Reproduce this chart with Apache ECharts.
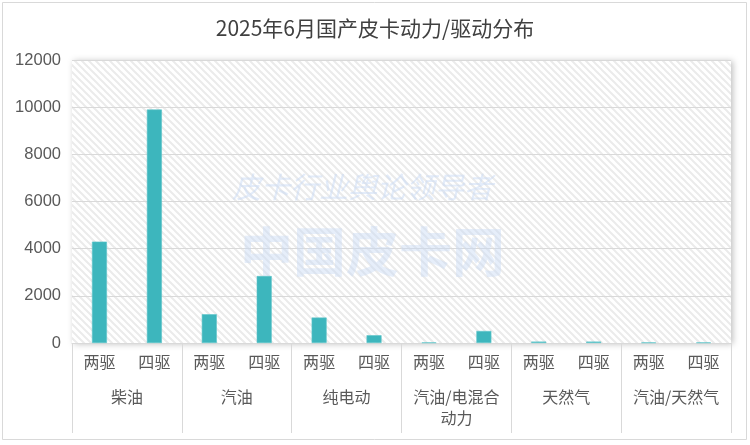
<!DOCTYPE html>
<html><head><meta charset="utf-8">
<script src="https://cdn.jsdelivr.net/npm/echarts@6/dist/echarts.min.js"></script>
<style>html,body{margin:0;padding:0;background:#fff}#c{width:750px;height:445px}</style>
</head><body><div id="c"></div>
<script>
const title = '2025年6月国产皮卡动力/驱动分布';
const drives = ['两驱','四驱','两驱','四驱','两驱','四驱','两驱','四驱','两驱','四驱','两驱','四驱'];
const groups = ['柴油','汽油','纯电动','汽油/电混合\n动力','天然气','汽油/天然气'];
const values = [4300, 9900, 1220, 2840, 1080, 330, 25, 510, 60, 60, 25, 25];
const yTicks = {min: 0, max: 12000, interval: 2000};

const FONT = '"Liberation Sans","Noto Sans CJK SC",sans-serif';
const CJK = '"Noto Sans CJK SC","Liberation Sans",sans-serif';

// hatch pattern
const tile = document.createElement('canvas');
tile.width = 7; tile.height = 7;
const tc = tile.getContext('2d');
tc.fillStyle = '#ffffff'; tc.fillRect(0,0,7,7);
tc.strokeStyle = '#ebebeb'; tc.lineWidth = 2;
tc.beginPath();
tc.moveTo(-1,-1); tc.lineTo(8,8);
tc.moveTo(-8,-1); tc.lineTo(1,8);
tc.moveTo(6,-1); tc.lineTo(15,8);
tc.stroke();

const chart = echarts.init(document.getElementById('c'), null, {renderer:'canvas'});
chart.setOption({
  backgroundColor: '#fff',
  animation: false,
  title: {text: title, left: 'center', top: 13,
    textStyle: {fontFamily: CJK, fontSize: 21, fontWeight: 'normal', color: '#404040'}},
  grid: {left: 72, right: 19, top: 60, bottom: 102, show: true,
    backgroundColor: {image: tile, repeat: 'repeat'}, borderWidth: 0,
    shadowBlur: 6, shadowColor: 'rgba(0,0,0,0.25)', shadowOffsetX: 2, shadowOffsetY: 1},
  graphic: [
    {type: 'rect', z: 0, shape: {x: 2.5, y: 2.5, width: 744, height: 437},
     style: {fill: 'none', stroke: '#d9d9d9', lineWidth: 1}, silent: true},
    {type: 'text', z: 1, left: 232, top: 172,
     style: {text: '皮卡行业舆论领导者', font: 'italic 29px "Noto Sans CJK SC"', fill: 'rgba(200,218,245,0.5)'}},
    {type: 'text', z: 1, left: 240, top: 225,
     style: {text: '中国皮卡网', font: 'bold 53px "Noto Sans CJK SC"', fill: 'rgba(200,218,245,0.45)'}}
  ],
  xAxis: [
    {type: 'category', data: drives, position: 'bottom',
     axisLine: {show: true, lineStyle: {color: '#d9d9d9', width: 1}},
     axisTick: {show: false},
     axisLabel: {interval: 0, margin: 11, fontFamily: CJK, fontSize: 16, color: '#595959'}},
    {type: 'category', data: groups, position: 'bottom', gridIndex: 0,
     axisLine: {show: false},
     axisTick: {show: true, interval: 0, length: 90, lineStyle: {color: '#d9d9d9', width: 1}},
     axisLabel: {interval: 0, margin: 43, fontFamily: CJK, fontSize: 16, color: '#595959', lineHeight: 21}}
  ],
  yAxis: {type: 'value', min: yTicks.min, max: yTicks.max, interval: yTicks.interval,
    axisLine: {show: false}, axisTick: {show: false},
    splitLine: {lineStyle: {color: '#d9d9d9', width: 1}},
    axisLabel: {margin: 11, fontFamily: FONT, fontSize: 16.5, color: '#595959', formatter: v => String(v)}},
  series: [{type: 'bar', xAxisIndex: 0, data: values, barWidth: 15, z: 3,
    itemStyle: {color: '#3db6bd', borderColor: '#5cc4ca', borderWidth: 0.6}}]
});
</script></body></html>
